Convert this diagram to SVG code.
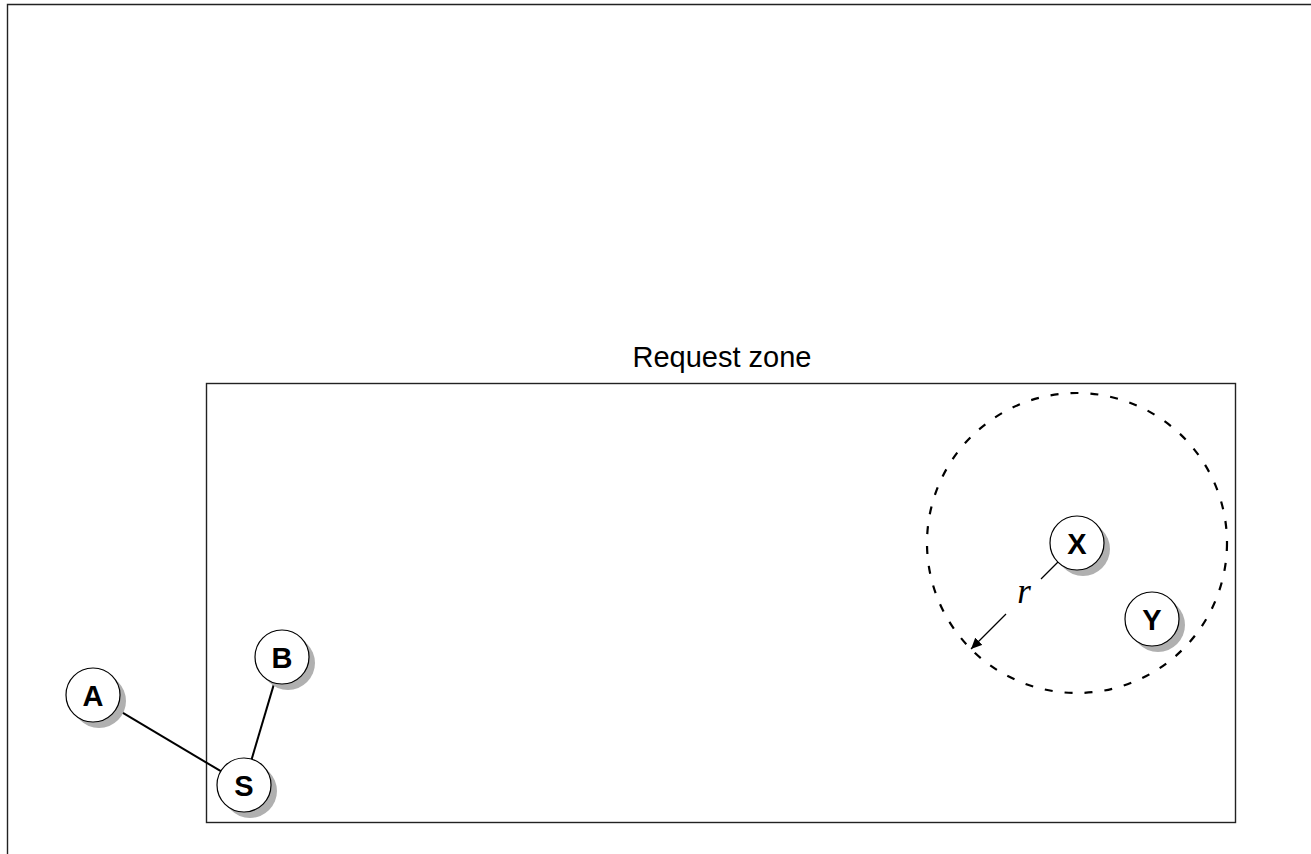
<svg xmlns="http://www.w3.org/2000/svg" width="1311" height="854" viewBox="0 0 1311 854">
<style>
.frame{fill:none;stroke:#222;stroke-width:1.4}
.shadow{fill:#b0b0b0;stroke:none}
.node{fill:#fff;stroke:#000;stroke-width:1.2}
.lbl{font-family:"Liberation Sans",Arial,sans-serif;font-weight:bold;font-size:29px;text-anchor:middle;fill:#000}
.edge{stroke:#000;stroke-width:2;fill:none}
.title{font-family:"Liberation Sans",Arial,sans-serif;font-size:29px;text-anchor:middle;fill:#000}
</style>
<defs>
<marker id="arr" markerWidth="12" markerHeight="10" refX="11" refY="5" orient="auto" markerUnits="userSpaceOnUse">
<path d="M0,0 L11,5 L0,10 z" fill="#000"/>
</marker>
</defs>
<rect width="1311" height="854" fill="#fff"/>
<path class="frame" d="M7.5,854 V4.5 H1311"/>
<g id="zone">
<rect class="frame" x="206.5" y="383.5" width="1029" height="439"/>
<text class="title" x="722" y="367">Request zone</text>
</g>
<g id="range">
<circle cx="1077" cy="543" r="150" fill="none" stroke="#000" stroke-width="2.2" stroke-dasharray="8 12"/>
</g>
<g id="connectors">
<line class="edge" x1="116.2" y1="708.8" x2="220.8" y2="771.2"/>
<line class="edge" x1="274.3" y1="682.9" x2="251.7" y2="759.1"/>
<line x1="1058" y1="562" x2="1041" y2="579" stroke="#000" stroke-width="1.2"/>
<line x1="1006" y1="614" x2="971" y2="649" stroke="#000" stroke-width="1.2" marker-end="url(#arr)"/>
<text x="1024" y="603" font-family="Liberation Serif,serif" font-style="italic" font-size="35" text-anchor="middle">r</text>
</g>
<g id="A">
<circle class="shadow" cx="99" cy="701" r="27"/>
<circle class="node" cx="93" cy="695" r="27"/>
<text class="lbl" x="93" y="705.5">A</text>
</g>
<g id="B">
<circle class="shadow" cx="288" cy="663" r="27"/>
<circle class="node" cx="282" cy="657" r="27"/>
<text class="lbl" x="282" y="667.5">B</text>
</g>
<g id="S">
<circle class="shadow" cx="250" cy="791" r="27"/>
<circle class="node" cx="244" cy="785" r="27"/>
<text class="lbl" x="244" y="795.5">S</text>
</g>
<g id="X">
<circle class="shadow" cx="1083" cy="549" r="27"/>
<circle class="node" cx="1077" cy="543" r="27"/>
<text class="lbl" x="1077" y="553.5">X</text>
</g>
<g id="Y">
<circle class="shadow" cx="1158" cy="625" r="27"/>
<circle class="node" cx="1152" cy="619" r="27"/>
<text class="lbl" x="1152" y="629.5">Y</text>
</g>
</svg>
